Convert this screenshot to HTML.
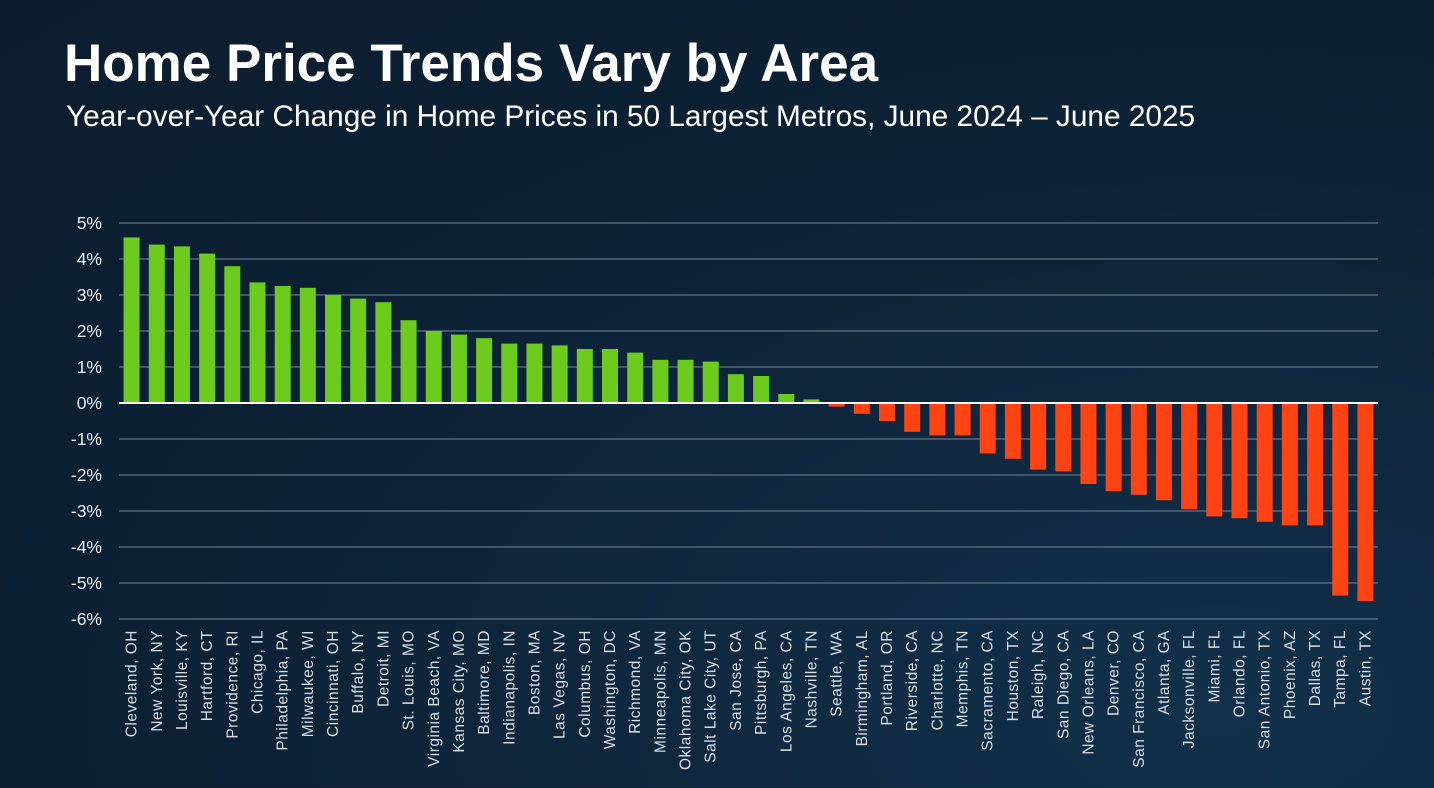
<!DOCTYPE html>
<html><head><meta charset="utf-8"><style>
html,body{margin:0;padding:0}
body{width:1434px;height:788px;overflow:hidden;background:radial-gradient(ellipse at 85% 90%,#12304a 0%,#0d2236 55%,#0b1c2d 100%);font-family:"Liberation Sans",sans-serif;}
h1{position:absolute;left:64px;top:33px;margin:0;font-size:53px;font-weight:bold;color:#fff}
h2{position:absolute;left:66px;top:100px;margin:0;font-size:29.8px;font-weight:normal;color:#fff}
svg{position:absolute;left:0;top:0}
</style></head><body>
<h1>Home Price Trends Vary by Area</h1>
<h2>Year-over-Year Change in Home Prices in 50 Largest Metros, June 2024 – June 2025</h2>
<svg id="chart" width="1434" height="788"></svg>
<script>
const categories=["Cleveland, OH","New York, NY","Louisville, KY","Hartford, CT","Providence, RI","Chicago, IL","Philadelphia, PA","Milwaukee, WI","Cincinnati, OH","Buffalo, NY","Detroit, MI","St. Louis, MO","Virginia Beach, VA","Kansas City, MO","Baltimore, MD","Indianapolis, IN","Boston, MA","Las Vegas, NV","Columbus, OH","Washington, DC","Richmond, VA","Minneapolis, MN","Oklahoma City, OK","Salt Lake City, UT","San Jose, CA","Pittsburgh, PA","Los Angeles, CA","Nashville, TN","Seattle, WA","Birmingham, AL","Portland, OR","Riverside, CA","Charlotte, NC","Memphis, TN","Sacramento, CA","Houston, TX","Raleigh, NC","San Diego, CA","New Orleans, LA","Denver, CO","San Francisco, CA","Atlanta, GA","Jacksonville, FL","Miami, FL","Orlando, FL","San Antonio, TX","Phoenix, AZ","Dallas, TX","Tampa, FL","Austin, TX"];
const values=[4.6,4.4,4.35,4.15,3.8,3.35,3.25,3.2,3.0,2.9,2.8,2.3,2.0,1.9,1.8,1.65,1.65,1.6,1.5,1.5,1.4,1.2,1.2,1.15,0.8,0.75,0.25,0.1,-0.1,-0.3,-0.5,-0.8,-0.9,-0.9,-1.4,-1.55,-1.85,-1.9,-2.25,-2.45,-2.55,-2.7,-2.95,-3.15,-3.2,-3.3,-3.4,-3.4,-5.35,-5.5];
const ticks=[5,4,3,2,1,0,-1,-2,-3,-4,-5,-6];
const NS="http://www.w3.org/2000/svg",svg=document.getElementById('chart');
const x0=119,x1=1378,yTop=223,yBot=619,vMax=5,vMin=-6;
const y=v=>yTop+(vMax-v)/(vMax-vMin)*(yBot-yTop);
const band=(x1-x0)/categories.length;
const x=i=>x0+i*band;
function mk(t,a){const e=document.createElementNS(NS,t);for(const k in a)e.setAttribute(k,a[k]);svg.appendChild(e);return e;}
ticks.forEach(t=>{
 if(t!==0){const g=mk('line',{x1:x0,x2:x1,y1:y(t),y2:y(t),stroke:'#5f7486','stroke-width':1.2});
 
 }
 const l=mk('text',{x:102,y:y(t)+6,'text-anchor':'end',fill:'#e8edf2','font-size':17.5});
 l.textContent=t+'%';
 
 
});
values.forEach((v,i)=>{
 const bw=16,bx=x(i)+(band-bw)/2;
 const r=mk('rect',{x:bx,y:Math.min(y(v),y(0)),width:bw,height:Math.abs(y(v)-y(0)),fill:v>=0?'#6ccb1d':'#ff4313'});
 
 
 const cx=x(i)+band/2+5;
 const t=mk('text',{x:0,y:0,transform:`translate(${cx},630) rotate(-90)`,'text-anchor':'end',fill:'#d8dee4','font-size':15.5,'letter-spacing':0.5});
 t.textContent=categories[i];
 
 
});
const z=mk('line',{x1:x0,x2:x1,y1:y(0),y2:y(0),stroke:'#ffffff','stroke-width':2});


</script>
</body></html>
